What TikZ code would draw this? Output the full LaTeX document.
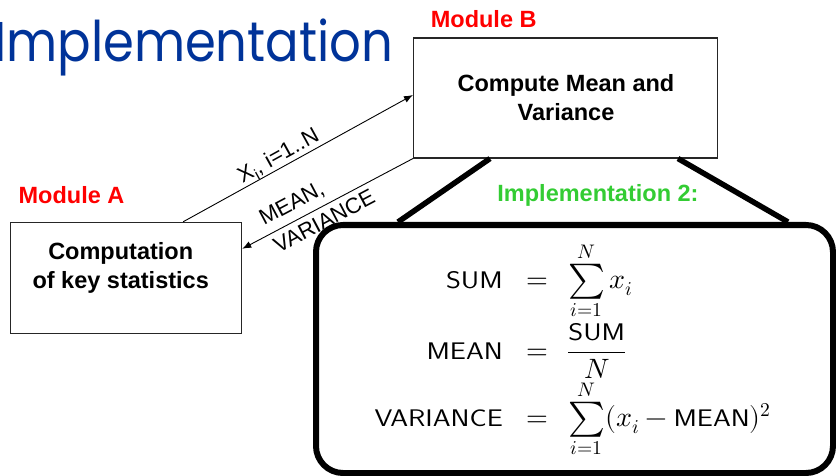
\documentclass[tikz,border=0pt]{standalone}
\usepackage{graphicx}
\usepackage{fontspec}
\usepackage{unicode-math}
\newfontfamily\arialfont{Liberation Sans}
\newfontfamily\titlefont{Poppins}
\usetikzlibrary{arrows.meta}
\definecolor{titleblue}{RGB}{0,51,153}
\definecolor{modred}{RGB}{255,0,0}
\definecolor{impgreen}{RGB}{51,204,51}
\newcommand\fsans[1]{\mbox{\scalebox{1.19}[1]{\sffamily\fontsize{24}{28}\selectfont #1}}}
\newcommand\Bsum{\mathop{\vcenter{\hbox{\scalebox{1.25}{$\textstyle\sum$}}}}\limits}
\tikzset{
  modbox/.style={draw=black!85, line width=1.1pt, inner sep=0pt},
  boldtxt/.style={font=\arialfont\bfseries\fontsize{23.5}{28.5}\selectfont, align=center, inner sep=0pt},
  modlabel/.style={font=\arialfont\bfseries\fontsize{23.5}{28}\selectfont, text=modred, inner sep=0pt},
  arrlabel/.style={font=\arialfont\fontsize{22}{27}\selectfont, inner sep=0pt},
  arr/.style={line width=0.9pt, -{Latex[length=9pt,width=7pt]}},
  thickline/.style={line width=5.5pt},
  fml/.style={inner sep=0pt, font=\fontsize{28}{33}\selectfont}
}
\begin{document}
\begin{tikzpicture}[x=1pt,y=-1pt]
\useasboundingbox (0,0) rectangle (836,476);
\clip (0,0) rectangle (836,476);
% title
\node[anchor=base west, inner sep=0pt, text=titleblue] (title) at (-6,62)
  {\resizebox{399pt}{\height}{\titlefont\fontsize{56}{60}\selectfont Implementation}};
% module boxes
\node[modbox, minimum width=304pt, minimum height=120pt] (B) at (565.5,98) {};
\node[boldtxt] (Btext) at (566,97.4) {Compute Mean and\\Variance};
\node[modbox, minimum width=231pt, minimum height=111pt] (A) at (126.2,277.8) {};
\node[boldtxt] (Atext) at (120.7,268) {Computation\\of key statistics};
% module labels
\node[modlabel] (LA) at (71.5,195) {Module A};
\node[modlabel] (LB) at (483.7,19.5) {Module B};
\node[font=\arialfont\bfseries\fontsize{23.5}{28}\selectfont, text=impgreen, inner sep=0pt] (imp) at (598,195) {Implementation 2:};
% arrows
\draw[arr] ([xshift=57pt]A.north) -- ([yshift=3pt]B.west);
\draw[arr] (B.south west) -- ([yshift=29pt]A.east);
\node[arrlabel, rotate=28.9] (l1) at (279,157) {X\textsubscript{i}, i=1..N};
\node[arrlabel, rotate=27.9] (l2) at (292,204) {MEAN,};
\node[arrlabel, rotate=27.9] (l3) at (324,221) {VARIANCE};
% formula box
\node[draw, line width=6pt, rounded corners=27pt, minimum width=517pt, minimum height=248pt, inner sep=0pt] (F) at (574.5,349) {};
\draw[thickline] ([xshift=-75.5pt]B.south) -- ([xshift=-176.5pt]F.north);
\draw[thickline] ([xshift=112.5pt]B.south) -- ([xshift=213.5pt]F.north);
% formulas
\node[fml, anchor=base east] (s1) at (503,288.5) {\fsans{SUM}};
\node[fml, anchor=base] (e1) at (537,288.5) {$=$};
\node[fml, anchor=base west] (r1) at (568,288.5) {$\Bsum_{i=1}^{N} x_i$};
\node[fml, anchor=base east] (s2) at (503,359.3) {\fsans{MEAN}};
\node[fml, anchor=base] (e2) at (537,359.3) {$=$};
\node[fml, anchor=base west] (r2) at (567,359.3) {$\displaystyle\frac{\fsans{SUM}}{N}$};
\node[fml, anchor=base east] (s3) at (503,426.7) {\fsans{VARIANCE}};
\node[fml, anchor=base] (e3) at (537,426.7) {$=$};
\node[fml, anchor=base west] (r3) at (568,426.7) {$\Bsum_{i=1}^{N} (x_i - \fsans{MEAN})^2$};
\end{tikzpicture}
\end{document}
